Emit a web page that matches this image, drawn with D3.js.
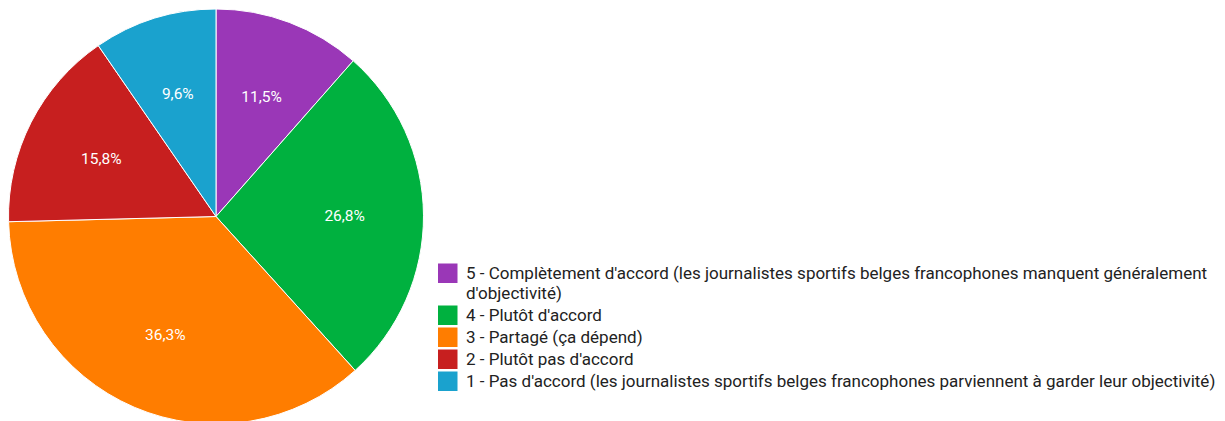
<!DOCTYPE html>
<html>
<head>
<meta charset="utf-8">
<script src="https://cdn.jsdelivr.net/npm/d3@7"></script>
<style>
  html, body { margin: 0; padding: 0; background: #ffffff; }
  svg { display: block; }
  text { font-family: Roboto, "Noto Sans", sans-serif; }
</style>
</head>
<body>
<svg id="chart" width="1225" height="421"></svg>
<script>
// Survey answers, in the order they appear clockwise from the top
const categories = [
  "5 - Complètement d'accord (les journalistes sportifs belges francophones manquent généralement d'objectivité)",
  "4 - Plutôt d'accord",
  "3 - Partagé (ça dépend)",
  "2 - Plutôt pas d'accord",
  "1 - Pas d'accord (les journalistes sportifs belges francophones parviennent à garder leur objectivité)"
];
const percentages = [11.5, 26.8, 36.3, 15.8, 9.6];
const sliceColors = ["#9a37b7", "#00b13f", "#ff7d00", "#c71f1f", "#1aa2ce"];

const svg = d3.select("#chart");
const W = 1225;
const cx = 216, cy = 216.5, radius = 207.5;

const color = d3.scaleOrdinal().domain(categories).range(sliceColors);

const data = categories.map((c, i) => ({ label: c, value: percentages[i] }));

const pie = d3.pie().sort(null).value(d => d.value);
const arc = d3.arc().innerRadius(0).outerRadius(radius);
const labelArc = d3.arc().innerRadius(radius * 0.62).outerRadius(radius * 0.62);

const g = svg.append("g").attr("transform", `translate(${cx},${cy})`);
const arcs = pie(data);

g.selectAll("path.slice")
  .data(arcs)
  .join("path")
  .attr("class", "slice")
  .attr("d", arc)
  .attr("fill", d => color(d.data.label))
  .attr("stroke", "#ffffff")
  .attr("stroke-width", 1);

const fmt = v => d3.format(".1f")(v).replace(".", ",") + "%";

g.selectAll("text.pct")
  .data(arcs)
  .join("text")
  .attr("class", "pct")
  .attr("transform", d => `translate(${labelArc.centroid(d)})`)
  .attr("text-anchor", "middle")
  .attr("dy", "0.35em")
  .attr("fill", "#ffffff")
  .attr("font-size", 15.5)
  .text(d => fmt(d.data.value));

// Legend with word wrapping for long entries
const legendX = 438, textX = 466, startY = 263.5;
const swatch = 19.5, lineH = 20, entryGap = 2.5;
const maxTextW = W - textX - 2;

const legend = svg.append("g").attr("class", "legend");
let y = startY;
categories.forEach(cat => {
  legend.append("rect")
    .attr("x", legendX).attr("y", y)
    .attr("width", swatch).attr("height", swatch)
    .attr("fill", color(cat));

  const t = legend.append("text")
    .attr("x", textX).attr("y", y + 15.5)
    .attr("font-size", 17)
    .attr("fill", "#222222");

  const words = cat.split(" ");
  let line = [];
  let tspan = t.append("tspan").attr("x", textX).attr("dy", 0);
  let lines = 1;
  words.forEach(w => {
    line.push(w);
    tspan.text(line.join(" "));
    if (tspan.node().getComputedTextLength() > maxTextW && line.length > 1) {
      line.pop();
      tspan.text(line.join(" "));
      line = [w];
      tspan = t.append("tspan").attr("x", textX).attr("dy", lineH).text(w);
      lines++;
    }
  });
  y += swatch + entryGap + (lines - 1) * lineH;
});
</script>
</body>
</html>
